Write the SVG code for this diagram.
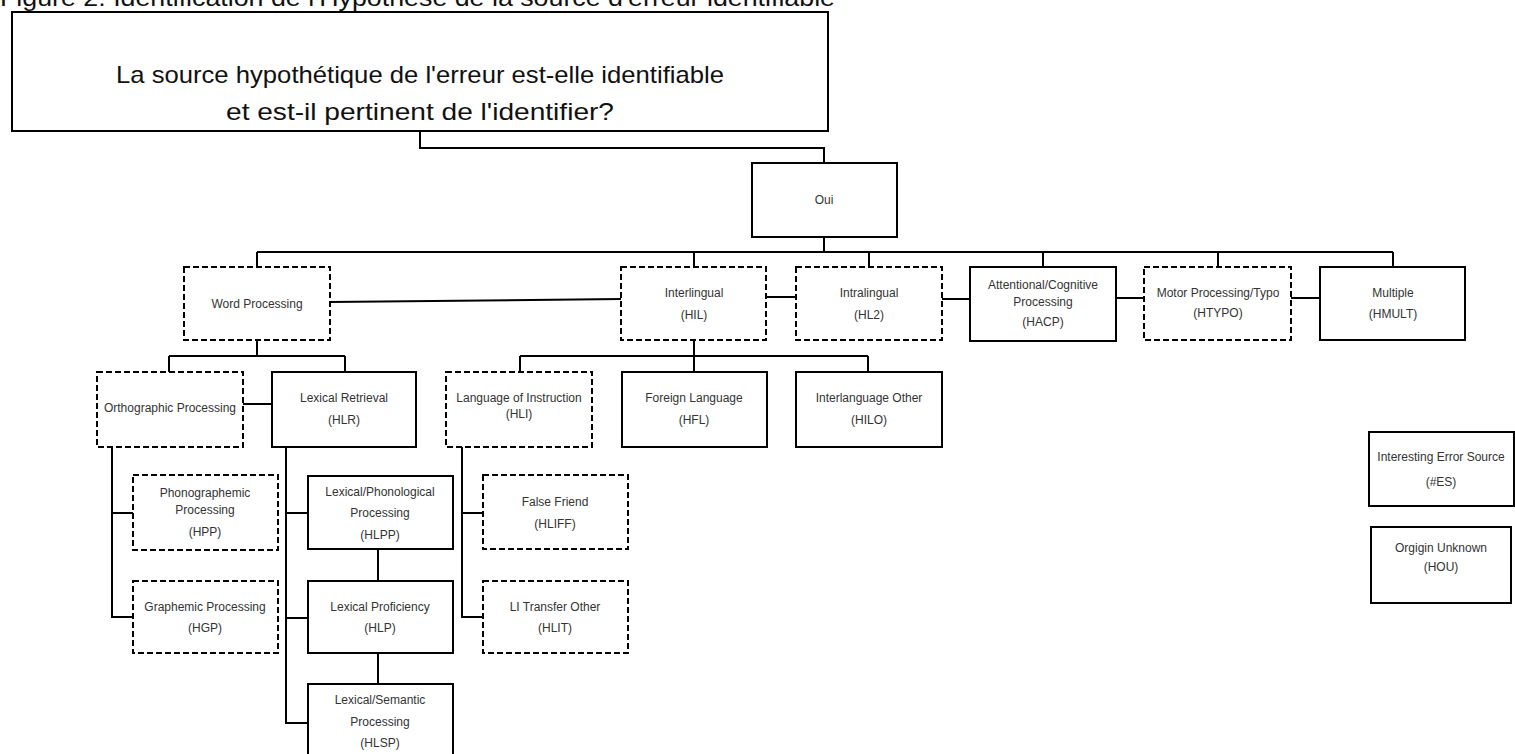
<svg xmlns="http://www.w3.org/2000/svg" width="1515" height="754" viewBox="0 0 1515 754">
<style>
.box{fill:#fff;stroke:#000;stroke-width:2}
.dash{fill:#fff;stroke:#000;stroke-width:2;stroke-dasharray:6 3}
.conn{fill:none;stroke:#000;stroke-width:2}
.lbl{font-family:"Liberation Sans",Arial,sans-serif;font-size:12px;fill:#333;text-anchor:middle}
.big{font-family:"Liberation Sans",Arial,sans-serif;font-size:24px;fill:#111;text-anchor:middle}
</style>
<rect width="1515" height="754" fill="#fff"/>
<text x="0" y="6" font-family="Liberation Sans, Arial, sans-serif" font-size="24" fill="#111" textLength="835" lengthAdjust="spacingAndGlyphs">Figure 2: Identification de l'Hypothèse de la source d'erreur identifiable</text>
<g id="connectors">
<path class="conn" d="M420,131 V148 H824 V163"/>
<path class="conn" d="M824,237 V252"/>
<path class="conn" d="M257,252 H1393"/>
<path class="conn" d="M257,252 V267 M694,252 V267 M869,252 V267 M1043,252 V267 M1218,252 V267 M1393,252 V267"/>
<path class="conn" d="M330,302 L621,299"/>
<path class="conn" d="M766,297 H796 M942,299 H970 M1116,298 H1144 M1291,298 H1320"/>
<path class="conn" d="M257,340 V356 M169,356 H345 M169,356 V372 M345,356 V372"/>
<path class="conn" d="M243,404 H272"/>
<path class="conn" d="M694,340 V356 M520,356 H868 M520,356 V372 M694,356 V372 M868,356 V372"/>
<path class="conn" d="M112,447 V617 H133 M112,513 H133"/>
<path class="conn" d="M286,447 V723 H308 M286,513 H308 M286,618 H308"/>
<path class="conn" d="M378,549 V581 M378,653 V684"/>
<path class="conn" d="M462,447 V617 H483 M462,513 H483"/>
</g>
<g id="question">
<rect class="box" x="12" y="12" width="816" height="119"/>
<text class="big" x="420" y="83" textLength="608" lengthAdjust="spacingAndGlyphs">La source hypothétique de l'erreur est-elle identifiable</text>
<text class="big" x="420" y="120" textLength="388" lengthAdjust="spacingAndGlyphs">et est-il pertinent de l'identifier?</text>
</g>
<g id="oui">
<rect class="box" x="752" y="163" width="145" height="74"/>
<text class="lbl" x="824" y="204">Oui</text>
</g>
<g id="word-processing">
<rect class="dash" x="184" y="267" width="146" height="73"/>
<text class="lbl" x="257" y="308">Word Processing</text>
</g>
<g id="interlingual">
<rect class="dash" x="621" y="267" width="145" height="73"/>
<text class="lbl" x="694" y="297">Interlingual</text>
<text class="lbl" x="694" y="319">(HIL)</text>
</g>
<g id="intralingual">
<rect class="dash" x="796" y="267" width="146" height="73"/>
<text class="lbl" x="869" y="297">Intralingual</text>
<text class="lbl" x="869" y="319">(HL2)</text>
</g>
<g id="attentional">
<rect class="box" x="970" y="267" width="146" height="74"/>
<text class="lbl" x="1043" y="289">Attentional/Cognitive</text>
<text class="lbl" x="1043" y="306">Processing</text>
<text class="lbl" x="1043" y="326">(HACP)</text>
</g>
<g id="motor">
<rect class="dash" x="1144" y="267" width="147" height="73"/>
<text class="lbl" x="1218" y="297">Motor Processing/Typo</text>
<text class="lbl" x="1218" y="317">(HTYPO)</text>
</g>
<g id="multiple">
<rect class="box" x="1320" y="267" width="145" height="73"/>
<text class="lbl" x="1393" y="297">Multiple</text>
<text class="lbl" x="1393" y="318">(HMULT)</text>
</g>
<g id="orthographic">
<rect class="dash" x="97" y="372" width="146" height="75"/>
<text class="lbl" x="170" y="412">Orthographic Processing</text>
</g>
<g id="lexical-retrieval">
<rect class="box" x="272" y="372" width="144" height="75"/>
<text class="lbl" x="344" y="402">Lexical Retrieval</text>
<text class="lbl" x="344" y="424">(HLR)</text>
</g>
<g id="language-instruction">
<rect class="dash" x="446" y="372" width="146" height="75"/>
<text class="lbl" x="519" y="402">Language of Instruction</text>
<text class="lbl" x="519" y="418">(HLI)</text>
</g>
<g id="foreign-language">
<rect class="box" x="622" y="372" width="145" height="75"/>
<text class="lbl" x="694" y="402">Foreign Language</text>
<text class="lbl" x="694" y="424">(HFL)</text>
</g>
<g id="interlanguage-other">
<rect class="box" x="796" y="372" width="146" height="75"/>
<text class="lbl" x="869" y="402">Interlanguage Other</text>
<text class="lbl" x="869" y="424">(HILO)</text>
</g>
<g id="phonographemic">
<rect class="dash" x="133" y="475" width="145" height="75"/>
<text class="lbl" x="205" y="497">Phonographemic</text>
<text class="lbl" x="205" y="514">Processing</text>
<text class="lbl" x="205" y="536">(HPP)</text>
</g>
<g id="graphemic">
<rect class="dash" x="133" y="581" width="145" height="72"/>
<text class="lbl" x="205" y="611">Graphemic Processing</text>
<text class="lbl" x="205" y="632">(HGP)</text>
</g>
<g id="lexical-phonological">
<rect class="box" x="308" y="476" width="145" height="73"/>
<text class="lbl" x="380" y="496">Lexical/Phonological</text>
<text class="lbl" x="380" y="517">Processing</text>
<text class="lbl" x="380" y="539">(HLPP)</text>
</g>
<g id="lexical-proficiency">
<rect class="box" x="308" y="581" width="145" height="72"/>
<text class="lbl" x="380" y="611">Lexical Proficiency</text>
<text class="lbl" x="380" y="632">(HLP)</text>
</g>
<g id="lexical-semantic">
<rect class="box" x="308" y="684" width="145" height="72"/>
<text class="lbl" x="380" y="704">Lexical/Semantic</text>
<text class="lbl" x="380" y="726">Processing</text>
<text class="lbl" x="380" y="747">(HLSP)</text>
</g>
<g id="false-friend">
<rect class="dash" x="483" y="475" width="145" height="74"/>
<text class="lbl" x="555" y="506">False Friend</text>
<text class="lbl" x="555" y="528">(HLIFF)</text>
</g>
<g id="li-transfer">
<rect class="dash" x="483" y="581" width="145" height="72"/>
<text class="lbl" x="555" y="611">LI Transfer Other</text>
<text class="lbl" x="555" y="632">(HLIT)</text>
</g>
<g id="interesting-error">
<rect class="box" x="1369" y="432" width="145" height="74"/>
<text class="lbl" x="1441" y="461">Interesting Error Source</text>
<text class="lbl" x="1441" y="486">(#ES)</text>
</g>
<g id="origin-unknown">
<rect class="box" x="1371" y="527" width="140" height="76"/>
<text class="lbl" x="1441" y="552">Orgigin Unknown</text>
<text class="lbl" x="1441" y="571">(HOU)</text>
</g>
</svg>
